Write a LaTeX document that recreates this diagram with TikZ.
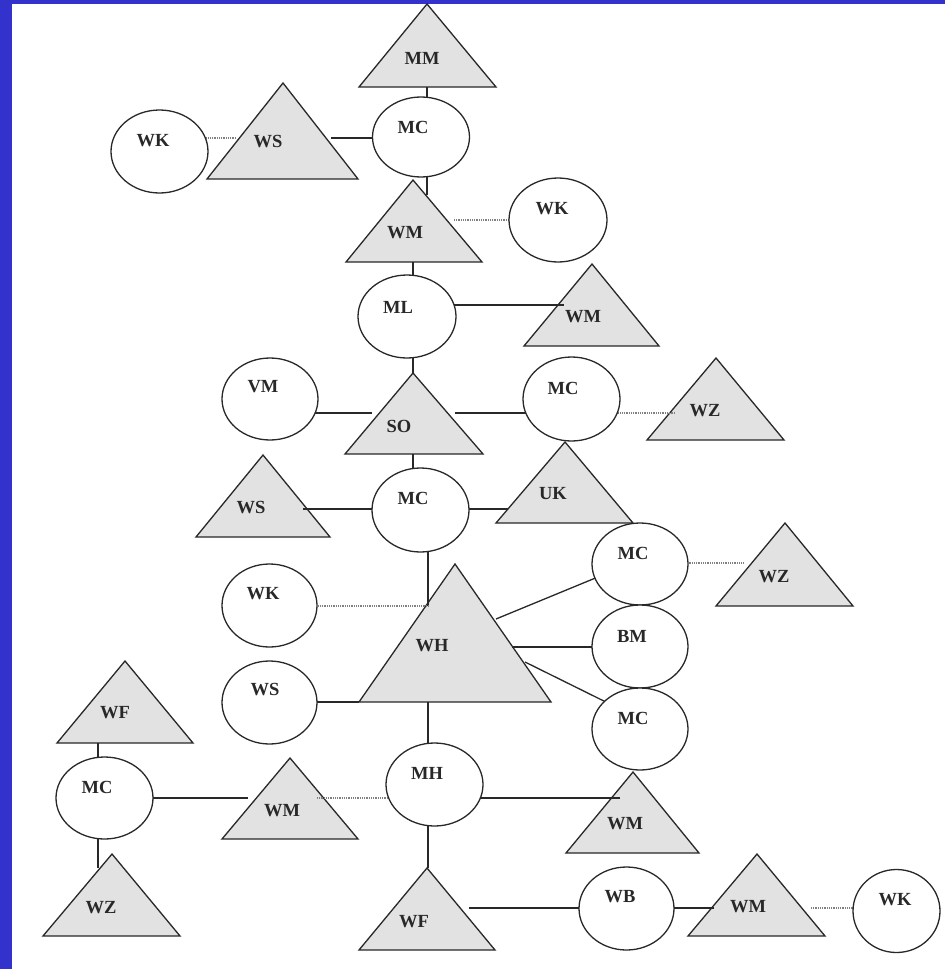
\documentclass[tikz,border=0pt]{standalone}
\usepackage{fontspec}
\setmainfont{Liberation Serif}
\usetikzlibrary{shapes.geometric}
\pgfdeclarelayer{bg}
\pgfdeclarelayer{tri}
\pgfdeclarelayer{lns}
\pgfsetlayers{bg,tri,lns,main}
\definecolor{bandblue}{RGB}{52,50,205}
\definecolor{trifill}{RGB}{226,226,226}
\definecolor{ink}{RGB}{40,40,40}
\tikzset{
  ell/.style={ellipse, draw=ink, line width=1.3pt, fill=white, inner sep=0pt},
  lbl/.style={font=\bfseries\fontsize{18.5}{18.5}\selectfont, text=ink, inner sep=0pt},
  trishape/.style={draw=ink, fill=trifill, line width=1.3pt, line join=miter},
  conn/.style={draw=ink, line width=1.3pt},
  dotconn/.style={draw=gray, line width=1.2pt, dash pattern=on 1pt off 0.8pt},
}
\begin{document}
\begin{tikzpicture}[x=1pt,y=-1pt]
\useasboundingbox (0,0) rectangle (945,969);
\begin{pgfonlayer}{bg}
\fill[white] (0,0) rectangle (945,969);
\fill[bandblue] (0,0) rectangle (12,969);
\fill[bandblue] (0,0) rectangle (945,4);
\end{pgfonlayer}

% ---------- triangles ----------
\begin{pgfonlayer}{tri}
\draw[trishape] (427,4) -- (359,87) -- (496,87) -- cycle;
\draw[trishape] (283,83) -- (207,179) -- (358,179) -- cycle;
\draw[trishape] (413,180) -- (346,262) -- (482,262) -- cycle;
\draw[trishape] (592,264) -- (524,346) -- (659,346) -- cycle;
\draw[trishape] (413,373) -- (345,454) -- (483,454) -- cycle;
\draw[trishape] (716,358) -- (647,440) -- (784,440) -- cycle;
\draw[trishape] (565,442) -- (496,523) -- (633,523) -- cycle;
\draw[trishape] (263,455) -- (196,537) -- (330,537) -- cycle;
\draw[trishape] (455,564) -- (359,702) -- (551,702) -- cycle;
\draw[trishape] (785,523) -- (716,606) -- (853,606) -- cycle;
\draw[trishape] (125,661) -- (57,743) -- (193,743) -- cycle;
\draw[trishape] (290,758) -- (222,839) -- (358,839) -- cycle;
\draw[trishape] (633,772) -- (566,853) -- (699,853) -- cycle;
\draw[trishape] (112,854) -- (43,936) -- (180,936) -- cycle;
\draw[trishape] (427,868) -- (359,950) -- (495,950) -- cycle;
\draw[trishape] (757,854) -- (688,936) -- (825,936) -- cycle;
\end{pgfonlayer}

% ---------- ellipses ----------
\node[ell, minimum width=97pt, minimum height=83pt] (wkA) at (159.5,151.5) {};
\node[ell, minimum width=97pt, minimum height=80pt] (mcA) at (421,137) {};
\node[ell, minimum width=98pt, minimum height=84pt] (wkB) at (558,220) {};
\node[ell, minimum width=98pt, minimum height=83pt] (ml) at (407,316.5) {};
\node[ell, minimum width=96pt, minimum height=82pt] (vm) at (270,399) {};
\node[ell, minimum width=97pt, minimum height=84pt] (mcB) at (571.5,399) {};
\node[ell, minimum width=97pt, minimum height=84pt] (mcC) at (420.5,510) {};
\node[ell, minimum width=95pt, minimum height=83pt] (wkC) at (269.5,605.5) {};
\node[ell, minimum width=95pt, minimum height=83pt] (wsC) at (269.5,702.5) {};
\node[ell, minimum width=96pt, minimum height=82pt] (mcD) at (640,564) {};
\node[ell, minimum width=96pt, minimum height=83pt] (bm) at (640,646.5) {};
\node[ell, minimum width=96pt, minimum height=82pt] (mcE) at (640,729) {};
\node[ell, minimum width=97pt, minimum height=82pt] (mcF) at (104.5,798) {};
\node[ell, minimum width=97pt, minimum height=83pt] (mh) at (434.5,784.5) {};
\node[ell, minimum width=95pt, minimum height=83pt] (wb) at (626.5,908.5) {};
\node[ell, minimum width=87pt, minimum height=83pt] (wkD) at (896.5,911) {};

% ---------- connector end points on triangles ----------
\coordinate (mm-s) at (427,87);
\coordinate (wsA-w) at (236,138);
\coordinate (wsA-e) at (331,138);
\coordinate (wmA-n) at (427,195);
\coordinate (wmA-e) at (454,220);
\coordinate (wmA-s) at (413,262);
\coordinate (wmB-w) at (564,305);
\coordinate (so-n) at (413,373);
\coordinate (so-w) at (372,413);
\coordinate (so-e) at (455,413);
\coordinate (so-s) at (413,454);
\coordinate (wzA-w) at (675,413);
\coordinate (wsB-e) at (303,509);
\coordinate (uk-w) at (508,509);
\coordinate (wh-n) at (428,606);
\coordinate (wh-w) at (359,702);
\coordinate (wh-s) at (428,702);
\coordinate (wh-ne) at (496,619);
\coordinate (wh-e) at (512,647);
\coordinate (wh-se) at (525,662);
\coordinate (mcD-in) at (610,572);
\coordinate (mcE-in) at (620,709);
\coordinate (wzB-w) at (744,563);
\coordinate (wfB-n) at (428,868);
\coordinate (wmD-w) at (620,798);
\coordinate (wmC-e) at (317,798);
\coordinate (wmC-w) at (248,798);
\coordinate (wfA-s) at (98,743);
\coordinate (wzC-n) at (98,868);
\coordinate (wfB-e) at (469,908);
\coordinate (wmE-w) at (714,908);
\coordinate (wmE-e) at (811,908);

% ---------- connectors ----------
\begin{pgfonlayer}{lns}
\draw[conn] (mm-s) -- (mm-s |- mcA);
\draw[dotconn] (wkA |- wsA-w) -- (wsA-w);
\draw[conn] (wsA-e) -- (mcA |- wsA-e);
\draw[conn] (wmA-n |- mcA) -- (wmA-n);
\draw[dotconn] (wmA-e) -- (wkB |- wmA-e);
\draw[conn] (wmA-s) -- (wmA-s |- ml);
\draw[conn] (ml |- wmB-w) -- (wmB-w);
\draw[conn] (so-n |- ml) -- (so-n);
\draw[conn] (vm |- so-w) -- (so-w);
\draw[conn] (so-e) -- (mcB |- so-e);
\draw[dotconn] (mcB |- wzA-w) -- (wzA-w);
\draw[conn] (so-s) -- (so-s |- mcC);
\draw[conn] (wsB-e) -- (mcC |- wsB-e);
\draw[conn] (mcC |- uk-w) -- (uk-w);
\draw[conn] (wh-n |- mcC) -- (wh-n);
\draw[dotconn] (wkC |- wh-n) -- (wh-n);
\draw[conn] (wsC |- wh-w) -- (wh-w);
\draw[conn] (wh-ne) -- (mcD-in);
\draw[conn] (wh-e) -- (bm |- wh-e);
\draw[conn] (wh-se) -- (mcE-in);
\draw[dotconn] (mcD |- wzB-w) -- (wzB-w);
\draw[conn] (wh-s) -- (wh-s |- mh);
\draw[conn] (wfB-n |- mh) -- (wfB-n);
\draw[conn] (mh |- wmD-w) -- (wmD-w);
\draw[dotconn] (wmC-e) -- (mh |- wmC-e);
\draw[conn] (mcF |- wmC-w) -- (wmC-w);
\draw[conn] (wfA-s) -- (wfA-s |- mcF);
\draw[conn] (wzC-n |- mcF) -- (wzC-n);
\draw[conn] (wfB-e) -- (wb |- wfB-e);
\draw[conn] (wb |- wmE-w) -- (wmE-w);
\draw[dotconn] (wmE-e) -- (wkD |- wmE-e);
\end{pgfonlayer}

% ---------- labels ----------
\node[lbl] (t-mm) at (422,58) {MM};
\node[lbl] (t-wsA) at (268,142) {WS};
\node[lbl] (t-wmA) at (405,233) {WM};
\node[lbl] (t-wmB) at (583,317) {WM};
\node[lbl] (t-so) at (399,426) {SO};
\node[lbl] (t-wzA) at (705,411) {WZ};
\node[lbl] (t-uk) at (553,494) {UK};
\node[lbl] (t-wsB) at (251,508) {WS};
\node[lbl] (t-wh) at (432,646) {WH};
\node[lbl] (t-wzB) at (774,577) {WZ};
\node[lbl] (t-wfA) at (115,713) {WF};
\node[lbl] (t-wmC) at (282,811) {WM};
\node[lbl] (t-wmD) at (625,824) {WM};
\node[lbl] (t-wzC) at (101,908) {WZ};
\node[lbl] (t-wfB) at (414,922) {WF};
\node[lbl] (t-wmE) at (748,907) {WM};
\node[lbl] (t-wkA) at (153,141) {WK};
\node[lbl] (t-mcA) at (413,127) {MC};
\node[lbl] (t-wkB) at (552,209) {WK};
\node[lbl] (t-ml) at (398,307) {ML};
\node[lbl] (t-vm) at (263,387) {VM};
\node[lbl] (t-mcB) at (563,388) {MC};
\node[lbl] (t-mcC) at (413,498) {MC};
\node[lbl] (t-wkC) at (263,594) {WK};
\node[lbl] (t-wsC) at (265,690) {WS};
\node[lbl] (t-mcD) at (633,553) {MC};
\node[lbl] (t-bm) at (632,636) {BM};
\node[lbl] (t-mcE) at (633,718) {MC};
\node[lbl] (t-mcF) at (97,787) {MC};
\node[lbl] (t-mh) at (427,773) {MH};
\node[lbl] (t-wb) at (620,897) {WB};
\node[lbl] (t-wkD) at (895,900) {WK};
\end{tikzpicture}
\end{document}
